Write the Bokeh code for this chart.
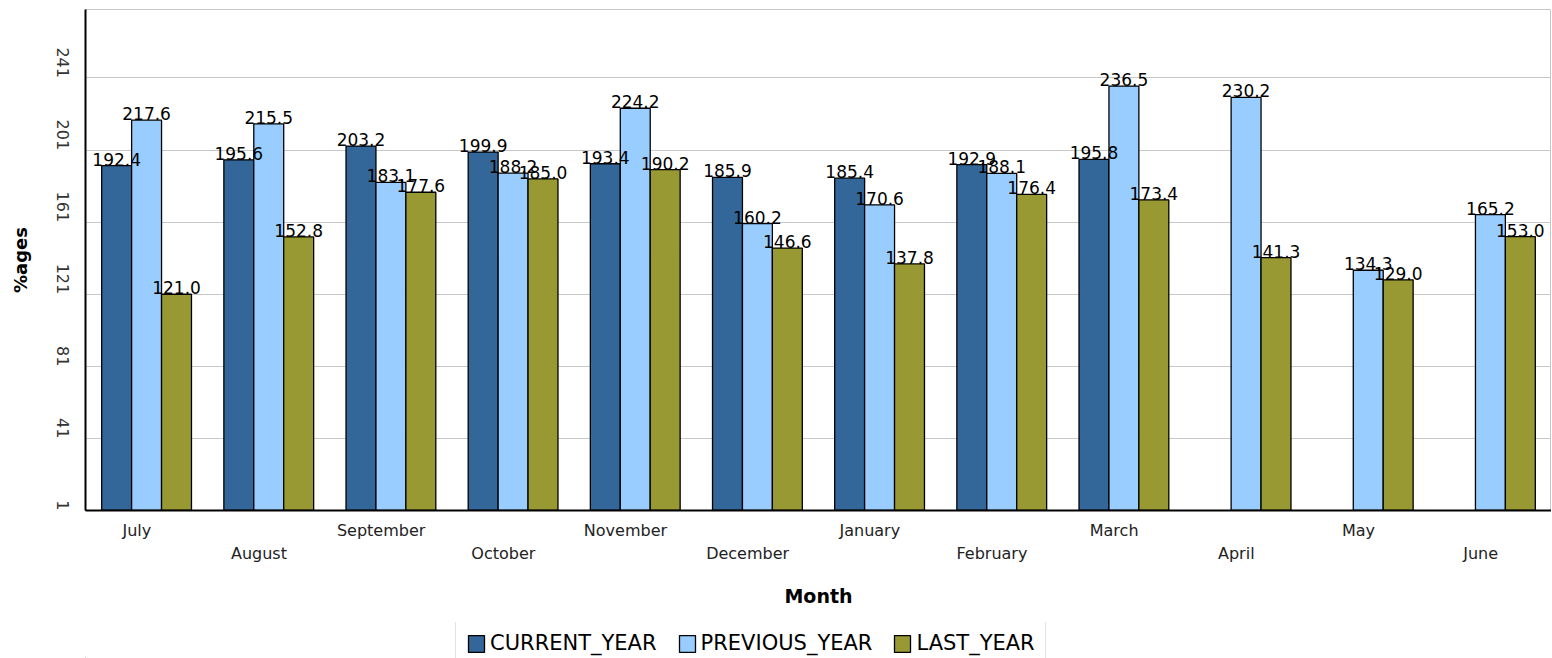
import math
from bokeh.plotting import figure
from bokeh.layouts import column
from bokeh.models import (ColumnDataSource, Range1d, FixedTicker, LinearAxis,
                          Legend, LegendItem, CustomJSTickFormatter)
from bokeh.transform import dodge
from bokeh.core.properties import value
from bokeh.embed import file_html
from bokeh.resources import INLINE

months = ["July", "August", "September", "October", "November", "December",
          "January", "February", "March", "April", "May", "June"]
current_year = [192.4, 195.6, 203.2, 199.9, 193.4, 185.9, 185.4, 192.9, 195.8, None, None, None]
previous_year = [217.6, 215.5, 183.1, 188.2, 224.2, 160.2, 170.6, 188.1, 236.5, 230.2, 134.3, 165.2]
last_year = [121.0, 152.8, 177.6, 185.0, 190.2, 146.6, 137.8, 176.4, 173.4, 141.3, 129.0, 153.0]
y_ticks = [1, 41, 81, 121, 161, 201, 241]

series_names = ["CURRENT_YEAR", "PREVIOUS_YEAR", "LAST_YEAR"]
series_values = [current_year, previous_year, last_year]
series_colors = ["#336699", "#99CCFF", "#999933"]
series_offsets = [-0.245, 0.0, 0.245]

# category centres on a numeric axis (one unit per month)
centres = [i + 0.5 for i in range(len(months))]
label_shift = -0.08  # month names sit slightly left of the group centre

p = figure(x_range=Range1d(0, len(months)), y_range=Range1d(1, 279),
           frame_width=1466, frame_height=501, output_backend="svg", toolbar_location=None,
           x_axis_location=None, min_border_left=85, min_border_right=0,
           min_border_top=9, min_border_bottom=112)
p.background_fill_color = "white"
p.border_fill_color = "white"
p.outline_line_color = "#c8c8c8"
p.xgrid.grid_line_color = None
p.ygrid.grid_line_color = "#c8c8c8"
p.ygrid.grid_line_width = 1

# y axis
ya = p.yaxis[0]
ya.ticker = FixedTicker(ticks=y_ticks)
ya.major_label_orientation = -math.pi / 2
ya.major_label_text_font = "DejaVu Sans"
ya.major_label_text_font_size = "16px"
ya.major_label_text_color = "#333333"
ya.major_label_standoff = 23
ya.major_tick_in = 0
ya.major_tick_out = 0
ya.minor_tick_in = 0
ya.minor_tick_out = 0
ya.axis_line_color = "black"
ya.axis_line_width = 2
ya.axis_label = "%ages"
ya.axis_label_text_font = "DejaVu Sans"
ya.axis_label_text_font_style = "bold"
ya.axis_label_text_font_size = "18px"
ya.axis_label_text_color = "black"
ya.axis_label_standoff = 17

fmt = CustomJSTickFormatter(args=dict(names=months),
                            code="return names[Math.floor(tick)] || '';")

# two rows of x labels: odd months on the first row, even months on the second
row1_ticks = [c + label_shift for c in centres[0::2]]
row2_ticks = [c + label_shift for c in centres[1::2]]

xa1 = LinearAxis(ticker=FixedTicker(ticks=row1_ticks), formatter=fmt)
xa1.axis_line_color = "black"
xa1.axis_line_width = 2
xa1.major_tick_in = 0
xa1.major_tick_out = 0
xa1.minor_tick_in = 0
xa1.minor_tick_out = 0
xa1.major_label_standoff = 10
xa1.major_label_text_font = "DejaVu Sans"
xa1.major_label_text_font_size = "16px"
xa1.major_label_text_color = "#222222"
p.add_layout(xa1, "below")

xa2 = LinearAxis(ticker=FixedTicker(ticks=row2_ticks), formatter=fmt)
xa2.axis_line_color = None
xa2.major_tick_in = 0
xa2.major_tick_out = 0
xa2.minor_tick_in = 0
xa2.minor_tick_out = 0
xa2.major_label_standoff = 1
xa2.major_label_text_font = "DejaVu Sans"
xa2.major_label_text_font_size = "16px"
xa2.major_label_text_color = "#222222"
xa2.axis_label = "Month"
xa2.axis_label_text_font = "DejaVu Sans"
xa2.axis_label_text_font_style = "bold"
xa2.axis_label_text_font_size = "19px"
xa2.axis_label_text_color = "black"
xa2.axis_label_standoff = 19
p.add_layout(xa2, "below")

label_sources = []
for name, vals, color, off in zip(series_names, series_values, series_colors, series_offsets):
    xs = [c for c, v in zip(centres, vals) if v is not None]
    ys = [v for v in vals if v is not None]
    src = ColumnDataSource(dict(pos=xs, val=ys, txt=["%.1f" % v for v in ys]))
    p.vbar(x=dodge("pos", off), top="val", bottom=0, width=0.245,
           source=src, fill_color=color, line_color="black", line_width=1.3)
    label_sources.append((src, off))

for src, off in label_sources:
    p.text(x=dodge("pos", off), y="val", text="txt", source=src,
           text_align="center", text_baseline="bottom", y_offset=0,
           text_font=value("DejaVu Sans"), text_font_size="17px", text_color="black")

# legend strip below the chart (proxy bars lie outside its visible range)
lg = figure(width=1551, height=36, x_range=Range1d(0, 1), y_range=Range1d(0, 1),
            output_backend="svg", toolbar_location=None,
            x_axis_location=None, y_axis_location=None, min_border=0)
lg.outline_line_color = None
lg.xgrid.grid_line_color = None
lg.ygrid.grid_line_color = None
lg.background_fill_color = "white"
lg.border_fill_color = "white"
items = []
for name, color in zip(series_names, series_colors):
    r = lg.vbar(x=[-10], top=[-10], bottom=-20, width=0.1,
                fill_color=color, line_color="black", line_width=1.3)
    items.append(LegendItem(label=name, renderers=[r]))

legend = Legend(items=items, orientation="horizontal", location=(370, -8))
legend.border_line_color = "#c8c8c8"
legend.border_line_width = 1
legend.background_fill_color = "white"
legend.label_text_font = "DejaVu Sans"
legend.label_text_font_size = "21px"
legend.label_text_color = "black"
legend.glyph_width = 20
legend.glyph_height = 21
legend.label_standoff = 4
legend.spacing = 20
legend.padding = 10
legend.margin = 0
lg.add_layout(legend, "center")

layout = column(p, lg, spacing=0)
open("out.html", "w").write(file_html(layout, INLINE))
